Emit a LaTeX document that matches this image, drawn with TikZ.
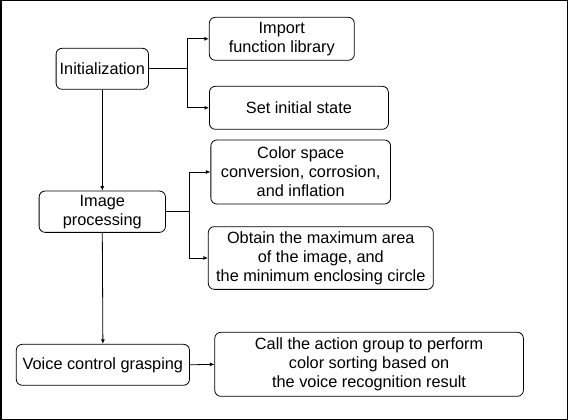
\documentclass[tikz,border=0pt]{standalone}
\usepackage{fontspec}
\setmainfont{Liberation Sans}
\usetikzlibrary{arrows.meta}
\begin{document}
\begin{tikzpicture}[x=1pt,y=-1pt,
  box/.style={draw,rounded corners=6pt,line width=0.8pt,align=center,inner sep=0pt,font=\fontsize{16.3}{19}\selectfont},
  conn/.style={line width=0.8pt},
  arr/.style={line width=0.8pt,-{Latex[length=4.5pt,width=4pt]}}]
\useasboundingbox (0,0) rectangle (568,420);
\draw[line width=1.5pt] (0.75,0.75) rectangle (567.25,419.25);
\node[box,minimum width=92.4pt,minimum height=41pt] (init) at (102.3,68.8) {Initialization};
\node[box,minimum width=145pt,minimum height=43pt] (imp) at (281.8,38.8) {Import\\function library};
\node[box,minimum width=179pt,minimum height=43pt] (set) at (298.9,107.8) {Set initial state};
\node[box,minimum width=126.4pt,minimum height=41.3pt] (img) at (102.3,211.7) {Image\\processing};
\node[box,minimum width=179.7pt,minimum height=64pt] (col) at (300.7,172) {Color space\\conversion, corrosion,\\and inflation};
\node[box,minimum width=225pt,minimum height=62.7pt] (obt) at (320.8,258) {Obtain the maximum area\\of the image, and\\the minimum enclosing circle};
\node[box,minimum width=173.2pt,minimum height=41pt] (voi) at (102.9,364.8) {Voice control grasping};
\node[box,minimum width=308.6pt,minimum height=64pt] (call) at (369.1,364.3) {Call the action group to perform\\color sorting based on\\the voice recognition result};
\coordinate (j1) at (187.3,68.8);
\coordinate (j2) at (189.1,211.7);
\draw[conn] (init.east) -- (j1);
\draw[arr] (j1) |- (imp.west);
\draw[arr] (j1) |- (set.west);
\draw[conn] (img.east) -- (j2);
\draw[arr] (j2) |- (col.west);
\draw[arr] (j2) |- (obt.west);
\draw[arr] (init.south) -- (img.north);
\draw[arr] (img.south) -- (voi.north);
\draw[arr] (voi.east) -- (call.west);
\end{tikzpicture}
\end{document}
